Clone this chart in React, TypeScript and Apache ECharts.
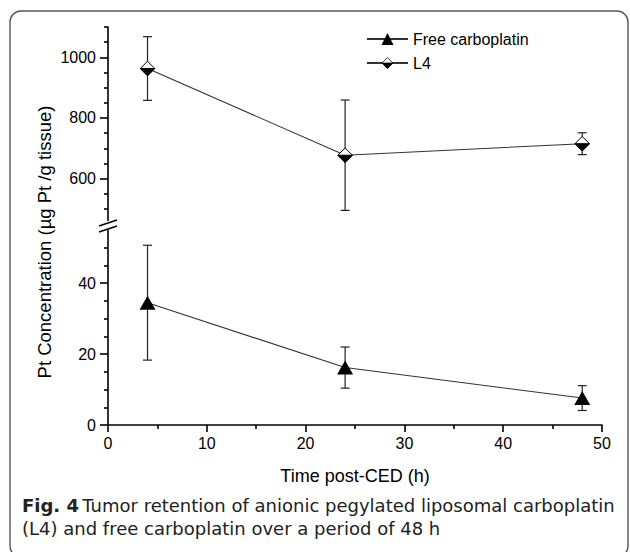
import React, { useEffect, useRef } from "react";
import * as echarts from "echarts";

// ---- data ----
const times = [4, 24, 48];
const freeMean = [34.5, 16.2, 7.6];
const freeErr = [16.2, 5.8, 3.5];
const l4Mean = [963, 677, 715];
const l4Err = [105, 182, 36];

const xTicks = [0, 10, 20, 30, 40, 50];
const upperMajor = [600, 800, 1000];
const upperMinor = [500, 550, 650, 700, 750, 850, 900, 950, 1050, 1100];
const lowerMajor = [0, 20, 40];
const lowerMinor = [5, 10, 15, 25, 30, 35, 45, 50];

const FONT = "Liberation Sans, Arial, sans-serif";
const CAP_FONT = "DejaVu Sans, Open Sans, sans-serif";

const diamondSvg =
  '<svg xmlns="http://www.w3.org/2000/svg" width="32" height="32" viewBox="0 0 32 32">' +
  '<polygon points="16,1.5 30.5,16 16,30.5 1.5,16" fill="#fff" stroke="#000" stroke-width="2"/>' +
  '<polygon points="1.5,16 30.5,16 16,30.5" fill="#000" stroke="#000" stroke-width="2"/>' +
  "</svg>";
const diamondSymbol = "image://data:image/svg+xml;utf8," + encodeURIComponent(diamondSvg);

function errorBars(means: number[], errs: number[]) {
  return times.map((t, i) => [t, means[i] - errs[i], means[i] + errs[i]]);
}

const renderErr = (params: any, api: any) => {
  const x = api.value(0);
  const lo = api.coord([x, api.value(1)]);
  const hi = api.coord([x, api.value(2)]);
  const h = 4.5;
  const st = { stroke: "#222", lineWidth: 1.2 };
  return {
    type: "group",
    children: [
      { type: "line", shape: { x1: lo[0], y1: lo[1], x2: hi[0], y2: hi[1] }, style: st },
      { type: "line", shape: { x1: lo[0] - h, y1: lo[1], x2: lo[0] + h, y2: lo[1] }, style: st },
      { type: "line", shape: { x1: hi[0] - h, y1: hi[1], x2: hi[0] + h, y2: hi[1] }, style: st },
    ],
  };
};

const plain = (v: number) => String(v);

export default function App() {
  const ref = useRef<HTMLDivElement>(null);
  useEffect(() => {
    if (!ref.current) return;
    const chart = echarts.init(ref.current, null, { renderer: "svg" });
    const axisLine = { show: true, lineStyle: { color: "#000", width: 1.6 } };
    const label = { color: "#000", fontSize: 16, fontFamily: FONT, formatter: plain };
    const option: any = {
      animation: false,
      backgroundColor: "#fff",
      grid: [
        { left: 108, right: 28, top: 27, height: 194 },
        { left: 108, right: 28, top: 230, height: 195 },
      ],
      xAxis: [
        { gridIndex: 0, type: "value", min: 0, max: 50, show: false },
        {
          gridIndex: 1,
          type: "value",
          min: 0,
          max: 50,
          interval: 10,
          axisLine,
          axisTick: { show: true, length: 7, lineStyle: { color: "#000", width: 1.6 } },
          minorTick: { show: true, splitNumber: 2, length: 4, lineStyle: { color: "#000", width: 1.6 } },
          splitLine: { show: false },
          axisLabel: { ...label, margin: 10, customValues: xTicks },
          name: "Time post-CED (h)",
          nameLocation: "middle",
          nameGap: 42,
          nameTextStyle: { color: "#000", fontSize: 18, fontFamily: FONT },
        },
      ],
      yAxis: [
        {
          gridIndex: 0,
          type: "value",
          min: 460,
          max: 1100,
          axisLine,
          axisTick: { show: true, length: 8, customValues: upperMajor, lineStyle: { color: "#000", width: 1.6 } },
          axisLabel: { ...label, margin: 12, customValues: upperMajor },
          splitLine: { show: false },
        },
        {
          gridIndex: 0,
          type: "value",
          position: "left",
          min: 460,
          max: 1100,
          axisLine: { show: false },
          axisTick: { show: true, length: 4, customValues: upperMinor, lineStyle: { color: "#000", width: 1.6 } },
          axisLabel: { show: false },
          splitLine: { show: false },
        },
        {
          gridIndex: 1,
          type: "value",
          min: 0,
          max: 55,
          axisLine,
          axisTick: { show: true, length: 8, customValues: lowerMajor, lineStyle: { color: "#000", width: 1.6 } },
          axisLabel: { ...label, margin: 12, customValues: lowerMajor },
          splitLine: { show: false },
        },
        {
          gridIndex: 1,
          type: "value",
          position: "left",
          min: 0,
          max: 55,
          axisLine: { show: false },
          axisTick: { show: true, length: 4, customValues: lowerMinor, lineStyle: { color: "#000", width: 1.6 } },
          axisLabel: { show: false },
          splitLine: { show: false },
        },
      ],
      legend: {
        orient: "vertical",
        left: 361,
        top: 26,
        itemWidth: 41,
        itemHeight: 15,
        itemGap: 8,
        textStyle: { color: "#000", fontSize: 16, fontFamily: FONT },
        data: ["Free carboplatin", "L4"],
      },
      series: [
        {
          type: "custom",
          name: "L4 err",
          xAxisIndex: 0,
          yAxisIndex: 0,
          z: 1,
          renderItem: renderErr,
          encode: { x: 0, y: [1, 2] },
          data: errorBars(l4Mean, l4Err),
        },
        {
          type: "custom",
          name: "Free err",
          xAxisIndex: 1,
          yAxisIndex: 2,
          z: 1,
          renderItem: renderErr,
          encode: { x: 0, y: [1, 2] },
          data: errorBars(freeMean, freeErr),
        },
        {
          type: "line",
          name: "Free carboplatin",
          xAxisIndex: 1,
          yAxisIndex: 2,
          z: 3,
          symbol: "triangle",
          symbolSize: [16, 14],
          showAllSymbol: true,
          itemStyle: { color: "#000" },
          lineStyle: { color: "#333", width: 1.1 },
          data: times.map((t, i) => [t, freeMean[i]]),
        },
        {
          type: "line",
          name: "L4",
          xAxisIndex: 0,
          yAxisIndex: 0,
          z: 3,
          symbol: diamondSymbol,
          symbolSize: 16,
          showAllSymbol: true,
          itemStyle: { color: "#000" },
          lineStyle: { color: "#333", width: 1.1 },
          data: times.map((t, i) => [t, l4Mean[i]]),
        },
      ],
      graphic: [
        {
          type: "rect",
          shape: { x: 10, y: 11, width: 618, height: 546, r: 11 },
          style: { fill: "none", stroke: "#555", lineWidth: 1.4 },
          z: 0,
        },
        // axis break gap and marks
        {
          type: "rect",
          shape: { x: 104, y: 221, width: 8, height: 8 },
          style: { fill: "#fff" },
          z: 50,
        },
        {
          type: "line",
          shape: { x1: 99, y1: 226, x2: 117, y2: 220 },
          style: { stroke: "#000", lineWidth: 1.5 },
          z: 51,
        },
        {
          type: "line",
          shape: { x1: 99, y1: 232, x2: 117, y2: 226 },
          style: { stroke: "#000", lineWidth: 1.5 },
          z: 51,
        },
        {
          type: "text",
          x: 44,
          y: 242,
          rotation: Math.PI / 2,
          style: {
            text: "Pt Concentration (\u00b5g Pt /g tissue)",
            fontSize: 18.5,
            fontFamily: FONT,
            fill: "#000",
            align: "center",
            verticalAlign: "middle",
          },
        },
        {
          type: "text",
          x: 22,
          y: 494,
          style: {
            text:
              "{b|Fig. 4} {n|Tumor retention of anionic pegylated liposomal carboplatin}\n" +
              "{n|(L4) and free carboplatin over a period of 48 h}",
            align: "left",
            verticalAlign: "top",
            fill: "#222",
            rich: {
              b: {
                fontSize: 18,
                fontWeight: "bold",
                fontFamily: CAP_FONT,
                fill: "#222",
                lineHeight: 23,
              },
              n: {
                fontSize: 18,
                fontFamily: CAP_FONT,
                fill: "#222",
                lineHeight: 23,
              },
            },
          },
        },
      ],
    };
    chart.setOption(option);
    return () => chart.dispose();
  }, []);
  return (
    <div
      ref={ref}
      style={{ position: "absolute", left: 0, top: 0, width: 630, height: 552, background: "#fff" }}
    />
  );
}
